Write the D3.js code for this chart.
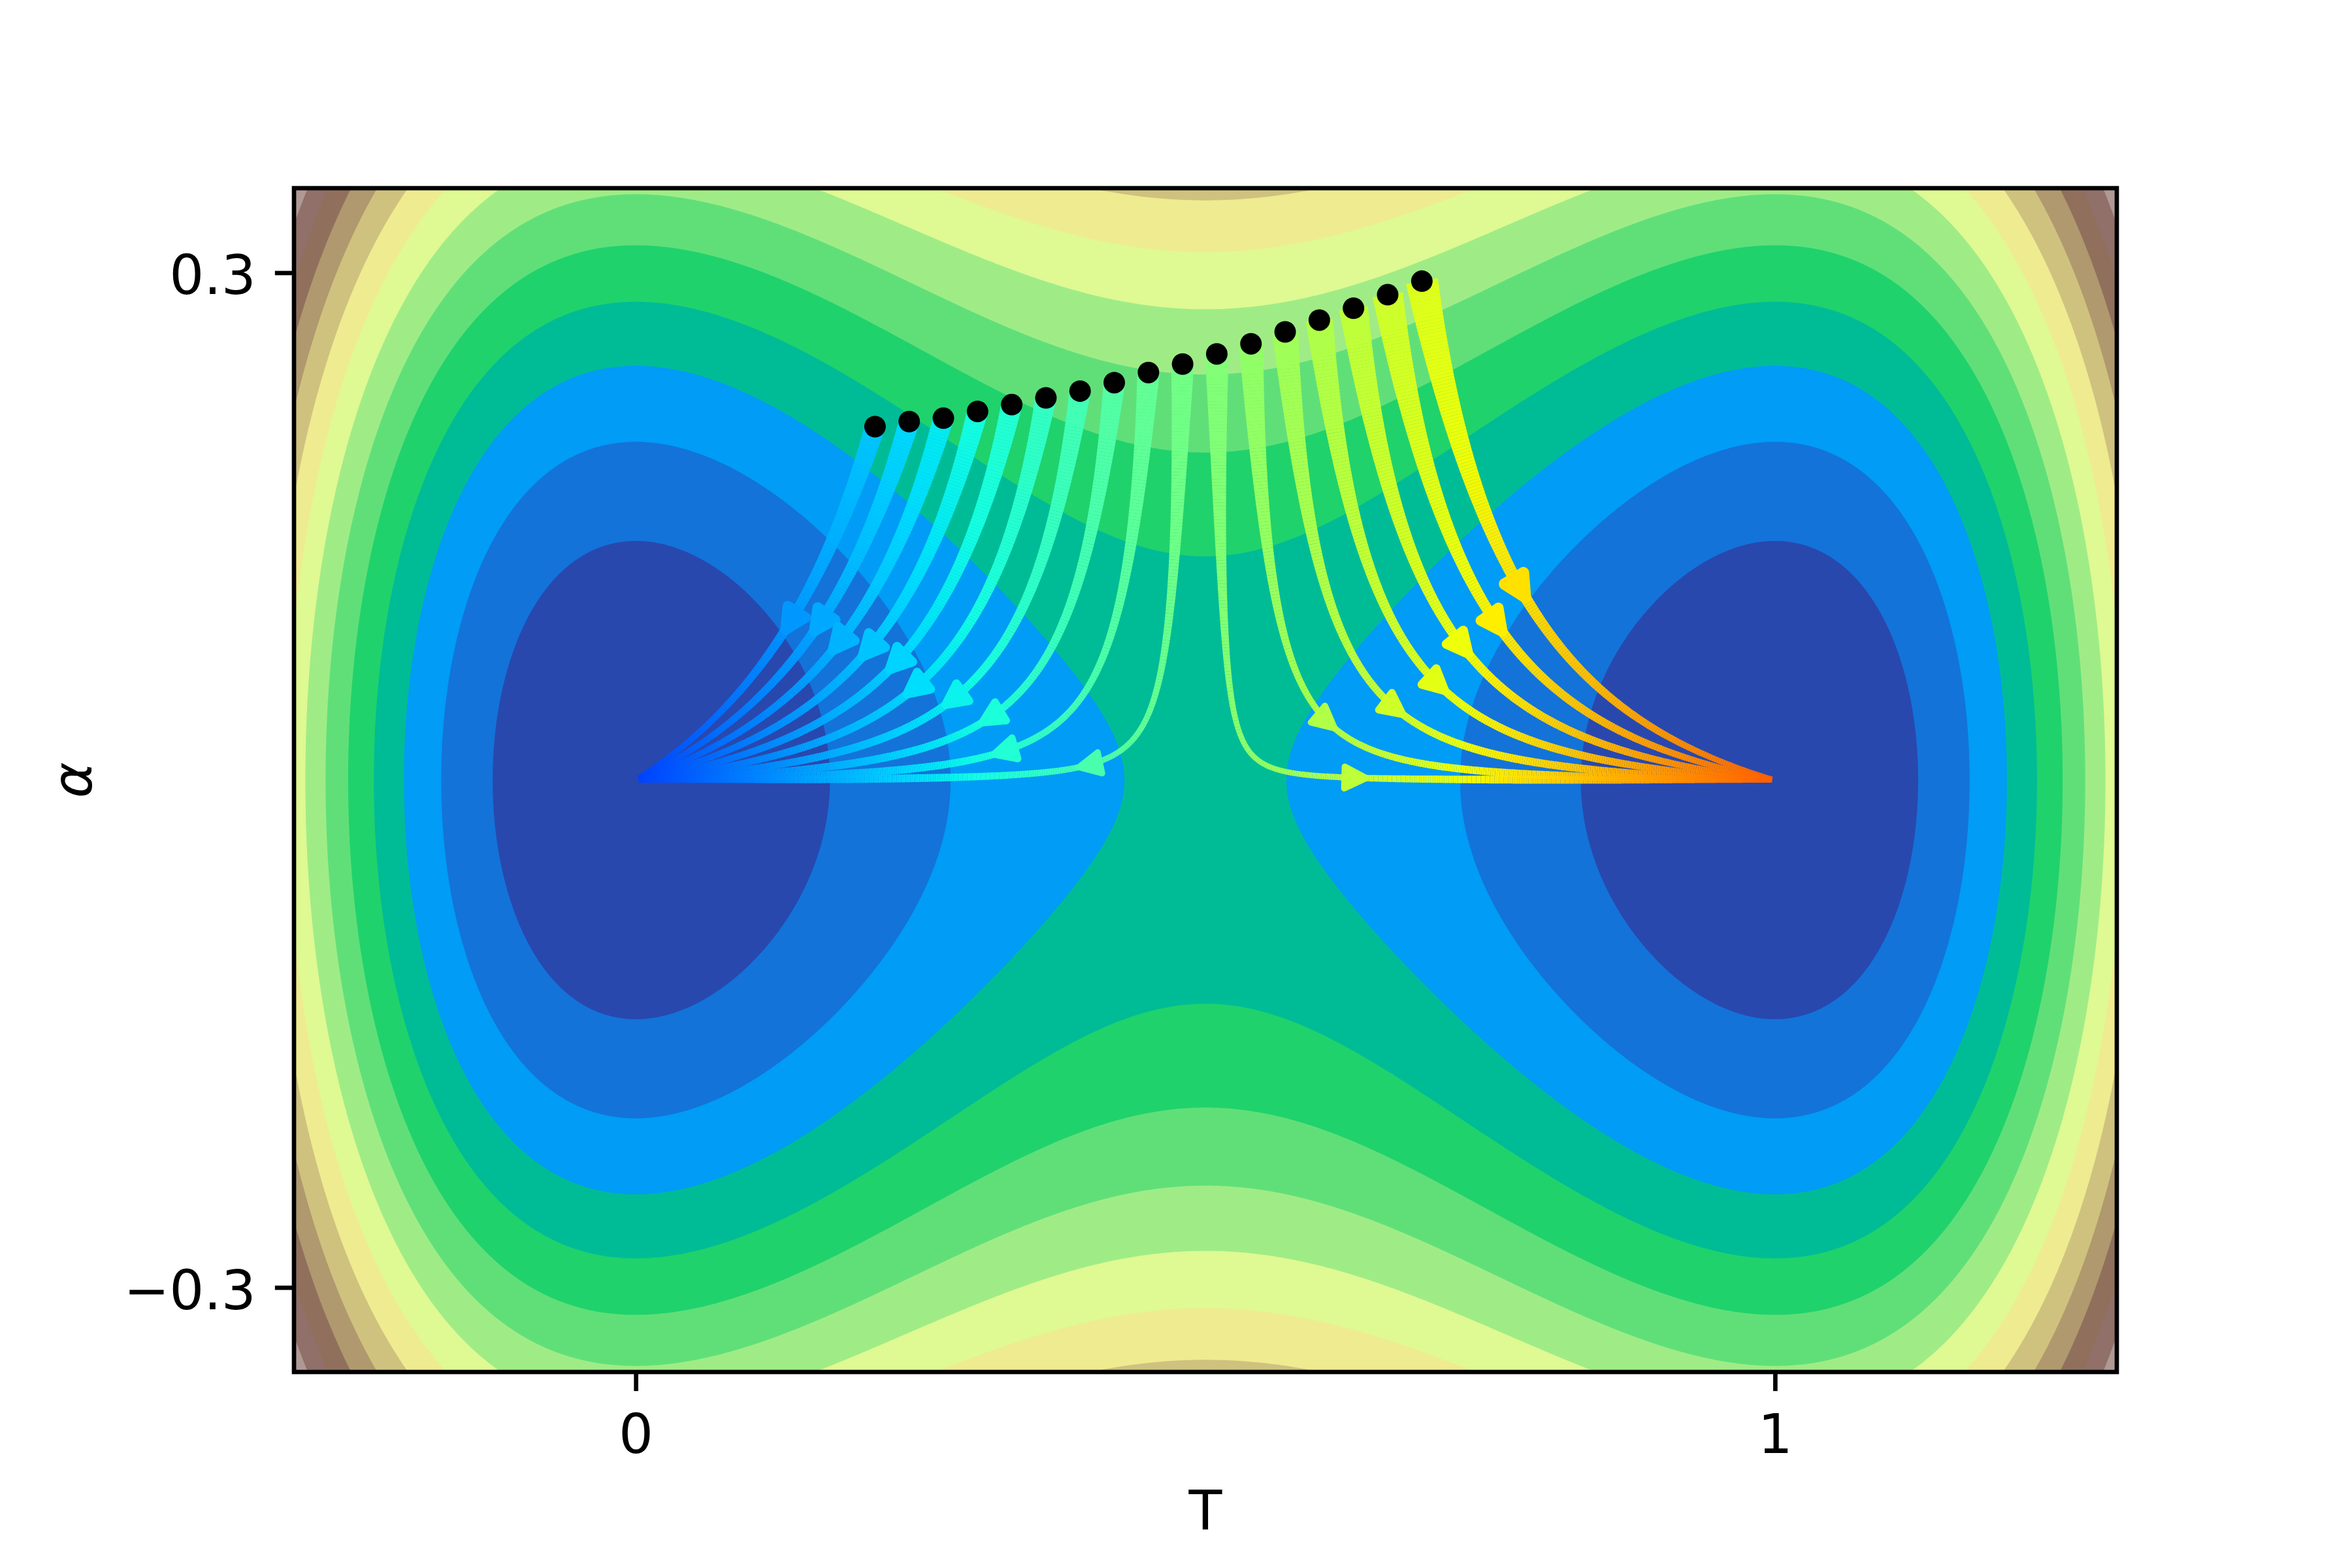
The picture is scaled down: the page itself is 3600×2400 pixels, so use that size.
<!DOCTYPE html>
<html>
<head>
<meta charset="utf-8">
<script src="https://cdn.jsdelivr.net/npm/d3@7"></script>
<style>
  body { margin: 0; background: #fff; }
  svg { display: block; }
</style>
</head>
<body>
<svg id="chart"></svg>
<script>
// start points of the trajectories (black dots)
const dotT = [0.21, 0.24, 0.27, 0.30, 0.33, 0.36, 0.39, 0.42, 0.45, 0.48, 0.51, 0.54, 0.57, 0.60, 0.63, 0.66, 0.69];
const dotAlpha = [0.209, 0.212, 0.214, 0.218, 0.222, 0.226, 0.230, 0.235, 0.241, 0.246, 0.252, 0.258, 0.265, 0.272, 0.279, 0.287, 0.295];
// T position of the arrow head drawn on each trajectory
const arrowT = [0.138, 0.164, 0.181, 0.208, 0.232, 0.248, 0.282, 0.315, 0.327, 0.402, 0.628, 0.604, 0.663, 0.701, 0.723, 0.753, 0.774];

// contour levels of the potential
const levels = [0, 0.02, 0.04, 0.06, 0.08, 0.10, 0.12, 0.14, 0.16, 0.18, 0.20, 0.22, 0.24, 0.26, 0.28, 0.30, 0.32];

const xTicks = [0, 1];
const yTicks = [-0.3, 0.3];
const xDomain = [-0.3, 1.3];
const yDomain = [-0.35, 0.35];

// "terrain" colormap stops
const terrainStops = [0, 0.15, 0.25, 0.5, 0.75, 1];
const terrainColors = ["#333399", "#0099ff", "#00cc66", "#ffff99", "#805c54", "#ffffff"];

// "jet" colormap channels
const jetR = [[0, 0.35, 0.66, 0.89, 1], [0, 0, 1, 1, 0.5]];
const jetG = [[0, 0.125, 0.375, 0.64, 0.91, 1], [0, 0, 1, 1, 0, 0]];
const jetB = [[0, 0.11, 0.34, 0.65, 1], [0.5, 1, 1, 0, 0]];

// double well potential and its gradient
function pot(T, a) { return T * T * (1 - T) * (1 - T) + a * a; }
function grad(T, a) { return [2 * T * (1 - T) * (1 - 2 * T), 2 * a]; }

const W = 3600, H = 2400;
const m = {left: 450, right: 3240, top: 288, bottom: 2100};
const px = 600 / 72; // pixels per point

const svg = d3.select("#chart").attr("width", W).attr("height", H);
svg.append("rect").attr("width", W).attr("height", H).attr("fill", "#fff");

const x = d3.scaleLinear().domain(xDomain).range([m.left, m.right]);
const y = d3.scaleLinear().domain(yDomain).range([m.bottom, m.top]);

const terrain = d3.scaleLinear().domain(terrainStops).range(terrainColors).interpolate(d3.interpolateRgb);
const chR = d3.scaleLinear().domain(jetR[0]).range(jetR[1]).clamp(true);
const chG = d3.scaleLinear().domain(jetG[0]).range(jetG[1]).clamp(true);
const chB = d3.scaleLinear().domain(jetB[0]).range(jetB[1]).clamp(true);
function jet(v) {
  return d3.rgb(255 * chR(v), 255 * chG(v), 255 * chB(v)).formatHex();
}
const colorNorm = d3.scaleLinear().domain(xDomain).range([0, 1]);

const vmax = levels[levels.length - 1];
const bandColor = k => terrain((levels[k] + levels[k + 1]) / 2 / vmax);

svg.append("clipPath").attr("id", "plotclip")
  .append("rect").attr("x", m.left).attr("y", m.top)
  .attr("width", m.right - m.left).attr("height", m.bottom - m.top);

const plot = svg.append("g").attr("clip-path", "url(#plotclip)");

// filled contours
const cell = 3;
const nx = Math.round((m.right - m.left) / cell), ny = Math.round((m.bottom - m.top) / cell);
const cw = (m.right - m.left) / nx, ch = (m.bottom - m.top) / ny;
const grid = new Float64Array(nx * ny);
for (let j = 0; j < ny; j++) {
  const a = y.invert(m.top + (j + 0.5) * ch);
  for (let i = 0; i < nx; i++) {
    grid[j * nx + i] = pot(x.invert(m.left + (i + 0.5) * cw), a);
  }
}
const contours = d3.contours().size([nx, ny]).thresholds(levels.slice(1, -1))(grid);
const proj = d3.geoTransform({
  point(gx, gy) { this.stream.point(m.left + gx * cw, m.top + gy * ch); }
});
const path = d3.geoPath(proj);

plot.append("rect").attr("x", m.left).attr("y", m.top)
  .attr("width", m.right - m.left).attr("height", m.bottom - m.top)
  .attr("fill", bandColor(0));
plot.selectAll("path.band").data(contours).join("path")
  .attr("class", "band")
  .attr("d", path)
  .attr("fill", (d, k) => bandColor(k + 1));

// field lines of the gradient flow, traced from each dot
function trace(T0, a0) {
  const ds = 0.0005;
  const dir = (T, a) => {
    const g = grad(T, a);
    const n = Math.hypot(g[0], g[1]) || 1;
    return [-g[0] / n, -g[1] / n];
  };
  let p = [T0, a0];
  const pts = [p];
  for (let i = 0; i < 8000; i++) {
    const k1 = dir(p[0], p[1]);
    const k2 = dir(p[0] + ds / 2 * k1[0], p[1] + ds / 2 * k1[1]);
    const k3 = dir(p[0] + ds / 2 * k2[0], p[1] + ds / 2 * k2[1]);
    const k4 = dir(p[0] + ds * k3[0], p[1] + ds * k3[1]);
    p = [p[0] + ds / 6 * (k1[0] + 2 * k2[0] + 2 * k3[0] + k4[0]),
         p[1] + ds / 6 * (k1[1] + 2 * k2[1] + 2 * k3[1] + k4[1])];
    pts.push(p);
    const tm = Math.round(p[0]);
    if (Math.hypot(p[0] - tm, p[1]) < 0.003) break;
  }
  return pts;
}

function widthAt(T, a) {
  const g = grad(T, a);
  return 8 + 110 * (g[0] * g[0] + g[1] * g[1]);
}

const lines = plot.append("g");
const arrows = plot.append("g");
const stride = 4;
const headLen = 4 * px, halfW = 2 * px;

dotT.forEach((T0, idx) => {
  const pts = trace(T0, dotAlpha[idx]);
  const segs = [];
  for (let i = 0; i < pts.length - 1; i += stride) {
    const j = Math.min(i + stride, pts.length - 1);
    segs.push([pts[i], pts[j]]);
  }
  lines.append("g").selectAll("line").data(segs).join("line")
    .attr("x1", d => x(d[0][0])).attr("y1", d => y(d[0][1]))
    .attr("x2", d => x(d[1][0])).attr("y2", d => y(d[1][1]))
    .attr("stroke", d => jet(colorNorm(d[0][0])))
    .attr("stroke-width", d => widthAt(d[0][0], d[0][1]))
    .attr("stroke-linecap", "butt");

  // arrow head: its centre sits where the path crosses arrowT
  const goesLeft = T0 < 0.5;
  let c = pts.findIndex(p => goesLeft ? p[0] <= arrowT[idx] : p[0] >= arrowT[idx]);
  if (c < 0) c = Math.floor(pts.length / 2);
  let n = c, walked = 0;
  while (n < pts.length - 1 && walked < headLen * 2 / 3) {
    walked += Math.hypot(x(pts[n + 1][0]) - x(pts[n][0]), y(pts[n + 1][1]) - y(pts[n][1]));
    n++;
  }
  const pa = pts[Math.max(n - 3, 0)], pb = pts[Math.min(n + 3, pts.length - 1)];
  let dx = x(pb[0]) - x(pa[0]), dy = y(pb[1]) - y(pa[1]);
  const len = Math.hypot(dx, dy); dx /= len; dy /= len;
  const tipX = x(pts[n][0]), tipY = y(pts[n][1]);
  const bx = tipX - dx * headLen, by = tipY - dy * headLen;
  const tri = [[tipX, tipY], [bx - dy * halfW, by + dx * halfW], [bx + dy * halfW, by - dx * halfW]];
  const col = jet(colorNorm(pts[c][0]));
  arrows.append("path")
    .attr("d", d3.line()(tri) + "Z")
    .attr("fill", col)
    .attr("stroke", col)
    .attr("stroke-width", widthAt(pts[c][0], pts[c][1]))
    .attr("stroke-linejoin", "round");
});

// start dots
plot.append("g").selectAll("circle").data(dotT).join("circle")
  .attr("cx", d => x(d))
  .attr("cy", (d, i) => y(dotAlpha[i]))
  .attr("r", 16.5)
  .attr("fill", "#000");

// frame
svg.append("rect").attr("x", m.left).attr("y", m.top)
  .attr("width", m.right - m.left).attr("height", m.bottom - m.top)
  .attr("fill", "none").attr("stroke", "#000").attr("stroke-width", 0.8 * px);

const fontSize = 10 * px;
const tickLen = 3.5 * px;

const xAxis = svg.append("g").attr("transform", `translate(0,${m.bottom})`)
  .call(d3.axisBottom(x).tickValues(xTicks).tickFormat(d3.format("d"))
    .tickSize(tickLen).tickPadding(36).tickSizeOuter(0));
const yAxis = svg.append("g").attr("transform", `translate(${m.left},0)`)
  .call(d3.axisLeft(y).tickValues(yTicks).tickFormat(d3.format(".1f"))
    .tickSize(tickLen).tickPadding(29).tickSizeOuter(0));

[xAxis, yAxis].forEach(g => {
  g.select(".domain").remove();
  g.selectAll(".tick line").attr("stroke", "#000").attr("stroke-width", 0.8 * px);
  g.selectAll(".tick text").attr("fill", "#000")
    .attr("font-family", "'DejaVu Sans', sans-serif").attr("font-size", fontSize);
  g.attr("font-family", null).attr("font-size", null);
});
yAxis.selectAll(".tick text").attr("dy", "0.39em");

svg.append("text")
  .attr("x", (m.left + m.right) / 2).attr("y", 2341)
  .attr("text-anchor", "middle")
  .attr("font-family", "'DejaVu Sans', sans-serif").attr("font-size", fontSize)
  .text("T");

svg.append("text")
  .attr("transform", `translate(140,${(m.top + m.bottom) / 2}) rotate(-90)`)
  .attr("text-anchor", "middle")
  .attr("font-family", "'DejaVu Sans', sans-serif").attr("font-style", "italic")
  .attr("font-size", fontSize)
  .text("α");
</script>
</body>
</html>
